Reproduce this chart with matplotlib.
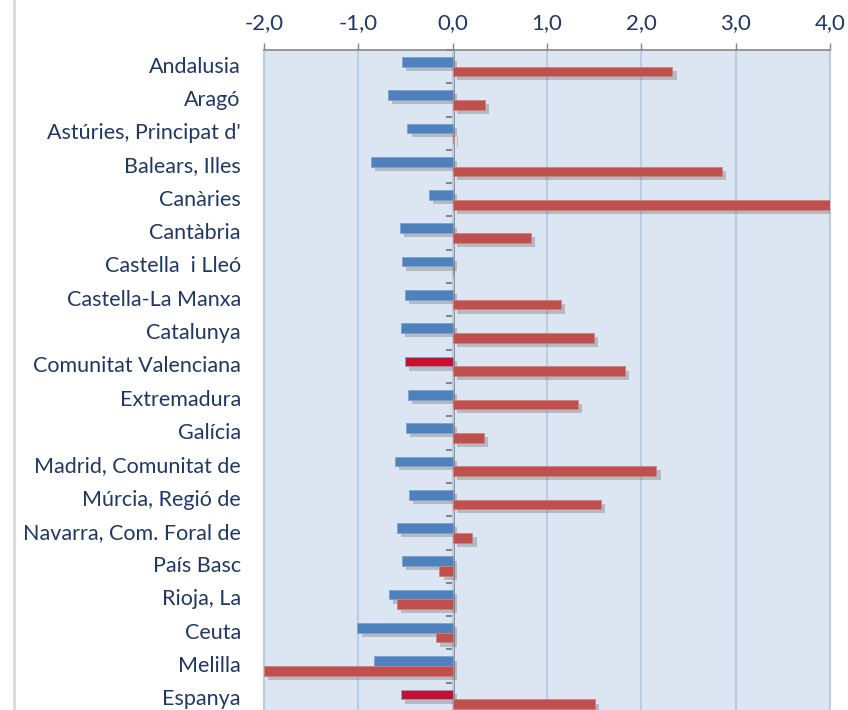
import matplotlib.pyplot as plt
import matplotlib.patheffects as pe
from matplotlib.lines import Line2D
import numpy as np

regions = [
    "Andalusia", "Aragó", "Astúries, Principat d'", "Balears, Illes", "Canàries",
    "Cantàbria", "Castella  i Lleó", "Castella-La Manxa", "Catalunya",
    "Comunitat Valenciana", "Extremadura", "Galícia", "Madrid, Comunitat de",
    "Múrcia, Regió de", "Navarra, Com. Foral de", "País Basc", "Rioja, La",
    "Ceuta", "Melilla", "Espanya",
]
serie_blava = [-0.54, -0.69, -0.48, -0.87, -0.25, -0.56, -0.54, -0.51, -0.55, -0.51,
               -0.47, -0.50, -0.61, -0.46, -0.59, -0.54, -0.68, -1.01, -0.83, -0.55]
serie_vermella = [2.33, 0.34, 0.01, 2.85, 4.00, 0.83, 0.0, 1.15, 1.50, 1.83,
                  1.33, 0.33, 2.16, 1.57, 0.21, -0.14, -0.59, -0.18, -2.00, 1.51]
destacades = ["Comunitat Valenciana", "Espanya"]
xticks = [-2, -1, 0, 1, 2, 3, 4]

navy = "#1F3864"
blue = "#4F81BD"
red = "#C0504D"
crimson = "#C8102E"

plt.rcParams["font.family"] = ["Lato", "DejaVu Sans"]

fig = plt.figure(figsize=(8.48, 7.10), dpi=100)
ax = fig.add_axes([264 / 848, -6 / 710, 566 / 848, 666 / 710])
ax.set_facecolor("#DCE6F2")

y = np.arange(len(regions))
h = 0.29
shadow = [pe.SimplePatchShadow(offset=(3, -3), shadow_rgbFace="#555555", alpha=0.3), pe.Normal()]

blue_colors = [crimson if r in destacades else blue for r in regions]
ax.barh(y - h / 2, serie_blava, height=h, color=blue_colors, edgecolor="#7FA1D0",
        linewidth=0.6, path_effects=shadow, zorder=3)
ax.barh(y + h / 2, serie_vermella, height=h, color=red, edgecolor="#D27F7D",
        linewidth=0.6, path_effects=shadow, zorder=3)

ax.set_xlim(-2, 4)
ax.set_ylim(len(regions) - 0.5, -0.5)

ax.xaxis.tick_top()
ax.set_xticks(xticks)
ax.set_xticklabels([f"{v:.1f}".replace(".", ",") for v in xticks])
ax.tick_params(axis="x", direction="out", length=5, width=1, color="#868686",
               labelcolor=navy, labelsize=16, pad=7)
ax.grid(axis="x", color="#B9CDE5", linewidth=1.5, zorder=0)
ax.set_axisbelow(True)

ax.set_yticks([])
for s in ["left", "right", "bottom"]:
    ax.spines[s].set_color("#B9CDE5")
    ax.spines[s].set_linewidth(1.5)
ax.spines["top"].set_color("#868686")
ax.spines["top"].set_linewidth(1.2)

# zero axis with category tick marks
zero = ax.secondary_yaxis(1 / 3)
zero.set_yticks(np.arange(len(regions) + 1) - 0.5)
zero.set_yticklabels([])
zero.tick_params(direction="out", length=5, width=1.5, color="#868686")
zero.spines["left"].set_color("#868686")
zero.spines["left"].set_linewidth(2)

for i, r in enumerate(regions):
    ax.text(-0.041, i, r, transform=ax.get_yaxis_transform(), ha="right", va="center",
            color=navy, fontsize=15.5)

fig.add_artist(Line2D([14 / 848, 14 / 848], [0, 1], color="#D9D9D9", linewidth=2))

fig.savefig("out.png", dpi=100)
